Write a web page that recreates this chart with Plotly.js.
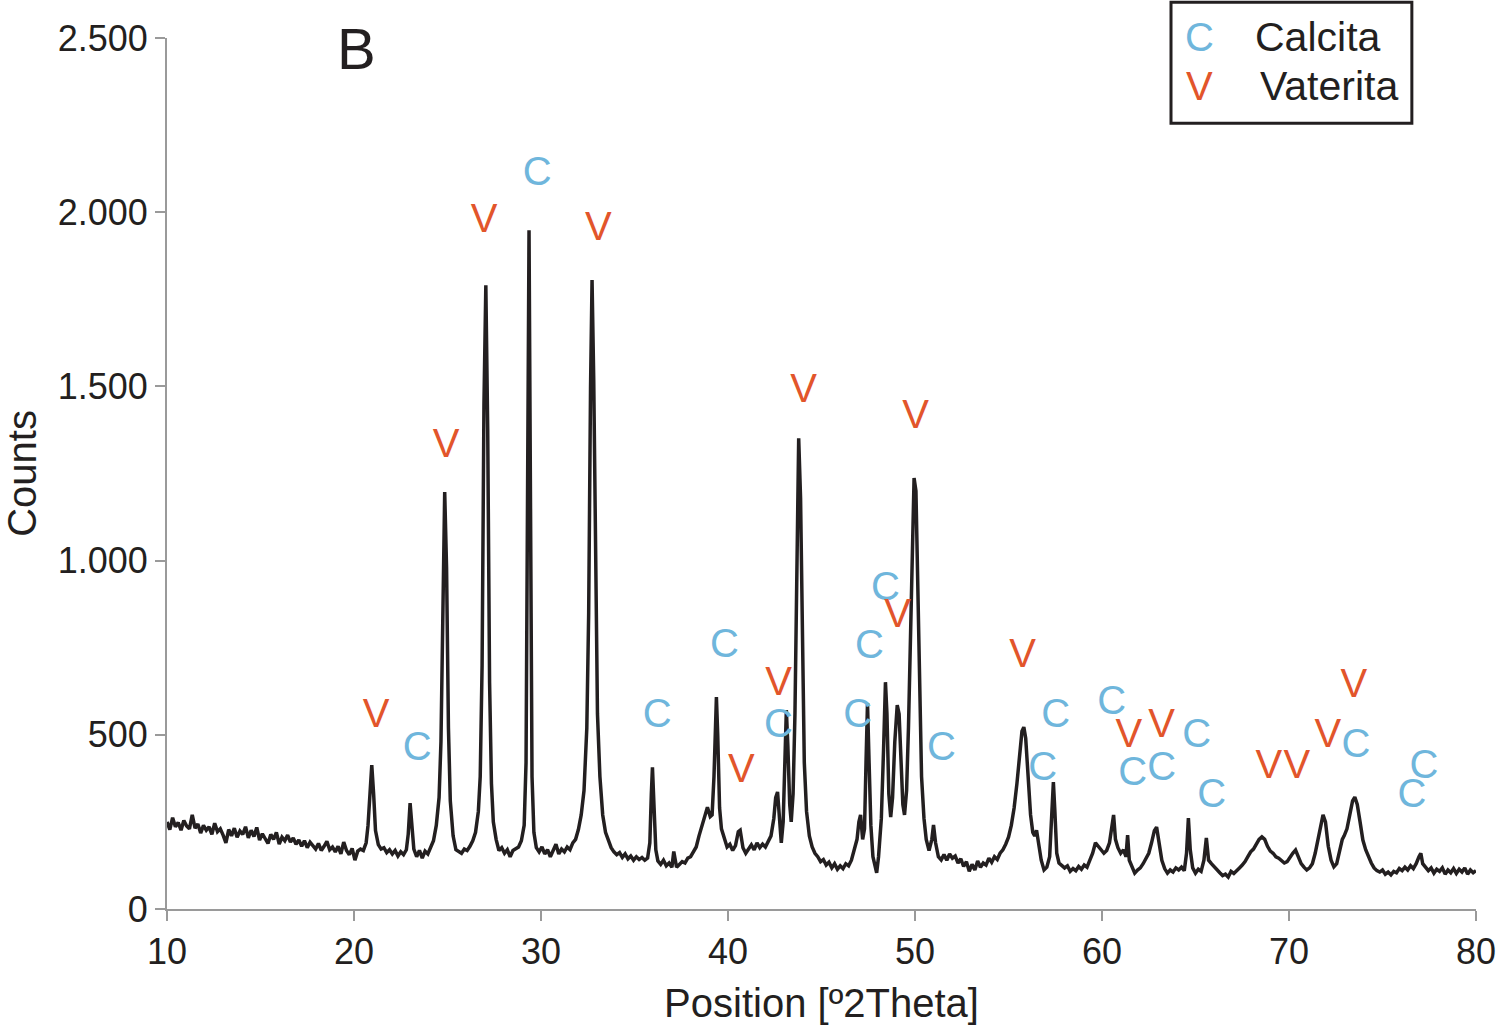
<!DOCTYPE html>
<html>
<head>
<meta charset="utf-8">
<script src="https://cdn.plot.ly/plotly-3.0.1.min.js"></script>
<style>
  html, body { margin: 0; padding: 0; background: #fff; }
  #chart { width: 1501px; height: 1030px; }
</style>
</head>
<body>
<div id="chart"></div>
<script>
// diffractogram: position (°2θ) and counts
twoTheta = [
  10.00,10.15,10.30,10.45,10.60,10.75,10.90,11.05,11.20,11.35,
  11.50,11.65,11.80,11.95,12.10,12.25,12.40,12.55,12.70,12.85,
  13.00,13.15,13.30,13.45,13.60,13.75,13.90,14.05,14.20,14.35,
  14.50,14.65,14.80,14.95,15.10,15.25,15.40,15.55,15.70,15.85,
  16.00,16.15,16.30,16.45,16.60,16.75,16.90,17.05,17.20,17.35,
  17.50,17.65,17.80,17.95,18.10,18.25,18.40,18.55,18.70,18.85,
  19.00,19.15,19.30,19.45,19.60,19.75,19.90,20.05,20.20,20.35,
  20.50,20.65,20.75,20.85,20.95,21.05,21.15,21.30,21.45,
  21.60,21.75,21.90,22.05,22.20,22.35,22.50,22.65,22.80,
  22.90,23.00,23.10,23.20,23.35,23.50,23.65,23.80,23.95,24.10,
  24.25,24.40,24.55,24.65,24.75,24.85,24.95,25.05,25.15,25.30,
  25.45,25.60,25.75,25.90,26.05,26.20,26.35,26.50,26.65,26.75,
  26.85,26.95,27.05,27.15,27.25,27.35,27.45,27.60,27.75,27.90,
  28.05,28.20,28.35,28.50,28.65,28.80,28.95,29.10,29.20,29.28,
  29.36,29.44,29.52,29.62,29.75,29.90,30.05,30.20,30.35,30.50,
  30.65,30.80,30.95,31.10,31.25,31.40,31.55,31.70,31.85,32.00,
  32.15,32.30,32.45,32.55,32.65,32.73,32.82,32.92,33.02,33.15,
  33.30,33.45,33.60,33.75,33.90,34.05,34.20,34.35,34.50,34.65,
  34.80,34.95,35.10,35.25,35.40,35.55,35.70,35.82,35.90,35.96,
  36.04,36.14,36.25,36.40,36.55,36.70,36.85,37.00,37.10,37.25,
  37.40,37.55,37.70,37.85,38.00,38.15,38.30,38.45,38.60,38.75,
  38.90,39.05,39.15,39.25,39.33,39.38,39.45,39.55,39.65,39.80,
  39.95,40.10,40.25,40.40,40.55,40.65,40.80,40.95,41.10,41.25,
  41.40,41.55,41.70,41.85,42.00,42.15,42.30,42.45,42.55,42.65,
  42.75,42.85,42.95,43.05,43.12,43.20,43.30,43.38,43.48,43.58,
  43.68,43.78,43.88,43.98,44.08,44.20,44.35,44.50,44.65,44.80,
  44.95,45.10,45.25,45.40,45.55,45.70,45.85,46.00,46.15,46.30,
  46.45,46.60,46.75,46.90,47.00,47.09,47.20,47.30,47.38,47.46,
  47.54,47.64,47.75,47.85,47.95,48.05,48.20,48.32,48.42,48.50,
  48.60,48.70,48.80,48.92,49.05,49.15,49.25,49.35,49.44,49.55,
  49.65,49.75,49.85,49.95,50.05,50.15,50.25,50.35,50.48,50.60,
  50.75,50.90,50.99,51.10,51.25,51.40,51.55,51.70,51.85,52.00,
  52.15,52.30,52.45,52.60,52.75,52.90,53.05,53.20,53.35,53.50,
  53.65,53.80,53.95,54.10,54.25,54.40,54.55,54.70,54.85,55.00,
  55.15,55.30,55.45,55.60,55.72,55.82,55.92,56.05,56.18,56.30,
  56.40,56.50,56.60,56.75,56.90,57.05,57.20,57.30,57.40,57.48,
  57.58,57.70,57.85,58.00,58.15,58.30,58.45,58.60,58.75,58.90,
  59.05,59.20,59.35,59.50,59.65,59.80,59.95,60.10,60.25,60.40,
  60.52,60.62,60.72,60.85,61.00,61.15,61.28,61.37,61.46,61.60,
  61.75,61.90,62.05,62.20,62.35,62.50,62.65,62.80,62.92,63.05,
  63.20,63.35,63.50,63.65,63.80,63.95,64.10,64.25,64.40,64.52,
  64.62,64.72,64.85,65.00,65.15,65.30,65.45,65.58,65.70,65.85,
  66.00,66.15,66.30,66.45,66.60,66.75,66.90,67.05,67.20,67.35,
  67.50,67.65,67.80,67.95,68.10,68.25,68.40,68.55,68.70,68.85,
  69.00,69.15,69.30,69.45,69.60,69.75,69.90,70.05,70.20,70.35,
  70.50,70.65,70.80,70.95,71.10,71.25,71.40,71.55,71.70,71.82,
  71.95,72.10,72.25,72.40,72.55,72.70,72.85,72.95,73.10,73.25,
  73.40,73.52,73.65,73.80,73.95,74.10,74.25,74.40,74.55,74.70,
  74.85,75.00,75.15,75.30,75.45,75.60,75.75,75.90,76.05,76.20,
  76.35,76.50,76.65,76.80,76.95,77.05,77.15,77.30,77.45,77.60,
  77.75,77.90,78.05,78.20,78.35,78.50,78.65,78.80,78.95,79.10,
  79.25,79.40,79.55,79.70,79.85,80.00
]
counts = [
  250,228,262,236,248,226,254,238,230,270,
  232,244,218,240,226,236,214,246,222,230,
  212,190,228,210,232,206,224,214,236,204,
  226,208,234,198,216,204,188,214,200,220,
  186,206,196,212,192,204,186,198,180,196,
  176,192,182,172,188,168,180,194,170,178,
  164,180,158,192,168,156,174,140,166,172,
  168,190,240,350,413,330,225,185,172,
  176,162,170,158,168,152,164,156,170,
  215,304,240,172,150,168,146,166,158,178,
  196,240,320,480,900,1197,980,520,310,210,
  170,164,160,172,168,180,196,220,280,380,
  700,1450,1790,1380,650,360,250,200,168,176,
  160,170,150,168,172,178,196,240,420,1200,
  1948,1150,380,220,176,164,178,158,170,150,
  166,186,158,172,164,178,170,190,200,228,
  270,340,520,850,1500,1805,1520,900,560,380,
  270,220,196,176,164,156,162,148,158,144,
  152,140,150,142,148,140,146,190,330,407,
  300,170,138,128,140,124,132,120,165,120,
  128,136,132,146,150,164,178,210,240,262,
  292,265,270,380,560,608,500,290,230,200,
  178,186,168,182,222,226,176,160,172,184,
  170,190,176,186,178,196,210,260,320,336,
  270,190,250,500,571,470,300,250,330,560,
  1050,1351,1180,700,420,280,210,178,160,150,
  136,142,126,134,118,130,114,124,116,130,
  124,140,170,200,250,270,200,230,420,591,
  430,240,150,120,104,150,260,460,651,560,
  330,264,320,480,585,560,420,300,270,340,
  520,800,1080,1237,1200,900,560,380,260,200,
  168,200,241,190,150,141,156,140,158,146,
  152,132,144,122,136,108,128,112,138,120,
  132,126,146,134,150,142,160,170,186,206,
  240,290,360,450,510,522,490,380,270,220,
  210,226,190,140,112,120,150,260,364,280,
  160,132,124,118,124,108,116,110,122,114,
  126,120,140,160,190,178,170,160,168,190,
  230,270,200,176,160,170,150,212,140,120,
  103,112,118,130,146,160,190,225,235,190,
  140,116,103,112,106,118,112,120,110,160,
  261,170,118,103,114,108,140,204,140,130,
  121,110,104,96,100,92,108,102,112,118,
  126,136,150,164,172,186,200,207,200,180,
  166,160,150,146,140,132,136,150,160,169,
  150,130,120,112,118,130,160,200,250,270,
  250,180,140,121,130,170,200,210,230,270,
  310,321,300,250,198,170,150,132,118,110,
  106,112,100,106,98,108,104,116,110,120,
  112,124,116,130,150,160,130,120,110,118,
  103,114,108,118,100,112,104,116,102,114,
  106,118,100,112,104,110
]

// phase labels above the reflections
labelX = [21.18,23.38,24.93,26.96,29.80,33.07,36.22,39.81,42.70,42.70,40.72,44.04,
          46.93,47.57,48.42,49.07,50.03,51.42,55.76,57.52,56.83,60.52,61.43,61.64,
          63.19,63.19,65.07,65.87,68.92,70.42,72.08,73.47,73.58,76.57,77.21]
labelY = [551,456,1326,1971,2106,1948,551,752,643,522,393,1483,
          551,749,915,838,1409,456,723,551,399,588,494,385,
          522,399,494,321,405,405,494,637,465,321,405]
labelText = ['V','C','V','V','C','V','C','C','V','C','V','V',
             'C','C','C','V','V','C','V','C','C','C','V','C',
             'V','C','C','C','V','V','V','V','C','C','C']

yTickVals = [0,500,1000,1500,2000,2500]
xTickVals = [10,20,30,40,50,60,70,80]

calcitaColor = '#6fb6dc'
vateritaColor = '#e2552b'
font = 'Liberation Sans, Arial, Helvetica, sans-serif'

pattern = {
    x: twoTheta,
    y: counts,
    mode: 'lines',
    type: 'scatter',
    line: {color: '#231f20', width: 3.5},
    hoverinfo: 'skip'
}

phases = {
    x: labelX,
    y: labelY,
    mode: 'text',
    type: 'scatter',
    text: labelText,
    textposition: 'middle center',
    textfont: {family: font, size: 40,
        color: labelText.map(t => t == 'C' ? calcitaColor : vateritaColor)},
    hoverinfo: 'skip'
}

var layout = {
    width: 1501,
    height: 1030,
    margin: {l: 167, r: 25, t: 38, b: 121},
    paper_bgcolor: '#fff',
    plot_bgcolor: '#fff',
    showlegend: false,
    separators: ',.',
    font: {family: font, color: '#231f20'},
    xaxis: {
        range: [10, 80],
        tickvals: xTickVals,
        showgrid: false,
        zeroline: false,
        showline: true,
        linecolor: '#9a9a9a',
        linewidth: 2,
        ticks: 'outside',
        ticklen: 10,
        tickwidth: 2,
        tickcolor: '#9a9a9a',
        tickfont: {size: 36, color: '#231f20'},
        title: {text: 'Position [º2Theta]', font: {size: 40, color: '#231f20'}, standoff: 18}
    },
    yaxis: {
        range: [0, 2500],
        tickvals: yTickVals,
        separatethousands: true,
        showgrid: false,
        zeroline: false,
        showline: true,
        linecolor: '#9a9a9a',
        linewidth: 2,
        ticks: 'outside',
        ticklen: 10,
        tickwidth: 2,
        tickcolor: '#9a9a9a',
        tickfont: {size: 36, color: '#231f20'},
        title: {text: 'Counts', font: {size: 40, color: '#231f20'}, standoff: 16}
    },
    shapes: [{
        type: 'rect', xref: 'paper', yref: 'paper',
        x0: 0.767, x1: 0.951, y0: 0.902, y1: 1.041,
        line: {color: '#231f20', width: 3}, fillcolor: 'rgba(0,0,0,0)'
    }],
    annotations: [
        {text: 'B', xref: 'paper', yref: 'paper', x: 0.145, y: 0.988,
         xanchor: 'center', yanchor: 'middle',
         showarrow: false, font: {size: 58, color: '#231f20'}},
        {text: 'C', xref: 'paper', yref: 'paper', x: 0.7884, y: 1.0008,
         xanchor: 'center', yanchor: 'middle',
         showarrow: false, font: {size: 40, color: calcitaColor}},
        {text: 'Calcita', xref: 'paper', yref: 'paper', x: 0.8297, y: 1.0008,
         xanchor: 'left', yanchor: 'middle',
         showarrow: false, font: {size: 41, color: '#231f20'}},
        {text: 'V', xref: 'paper', yref: 'paper', x: 0.7884, y: 0.9446,
         xanchor: 'center', yanchor: 'middle',
         showarrow: false, font: {size: 40, color: vateritaColor}},
        {text: 'Vaterita', xref: 'paper', yref: 'paper', x: 0.8335, y: 0.9446,
         xanchor: 'left', yanchor: 'middle',
         showarrow: false, font: {size: 41, color: '#231f20'}}
    ]
};

Plotly.newPlot('chart', [pattern, phases], layout, {responsive: false, displayModeBar: false, staticPlot: true});
</script>
</body>
</html>
